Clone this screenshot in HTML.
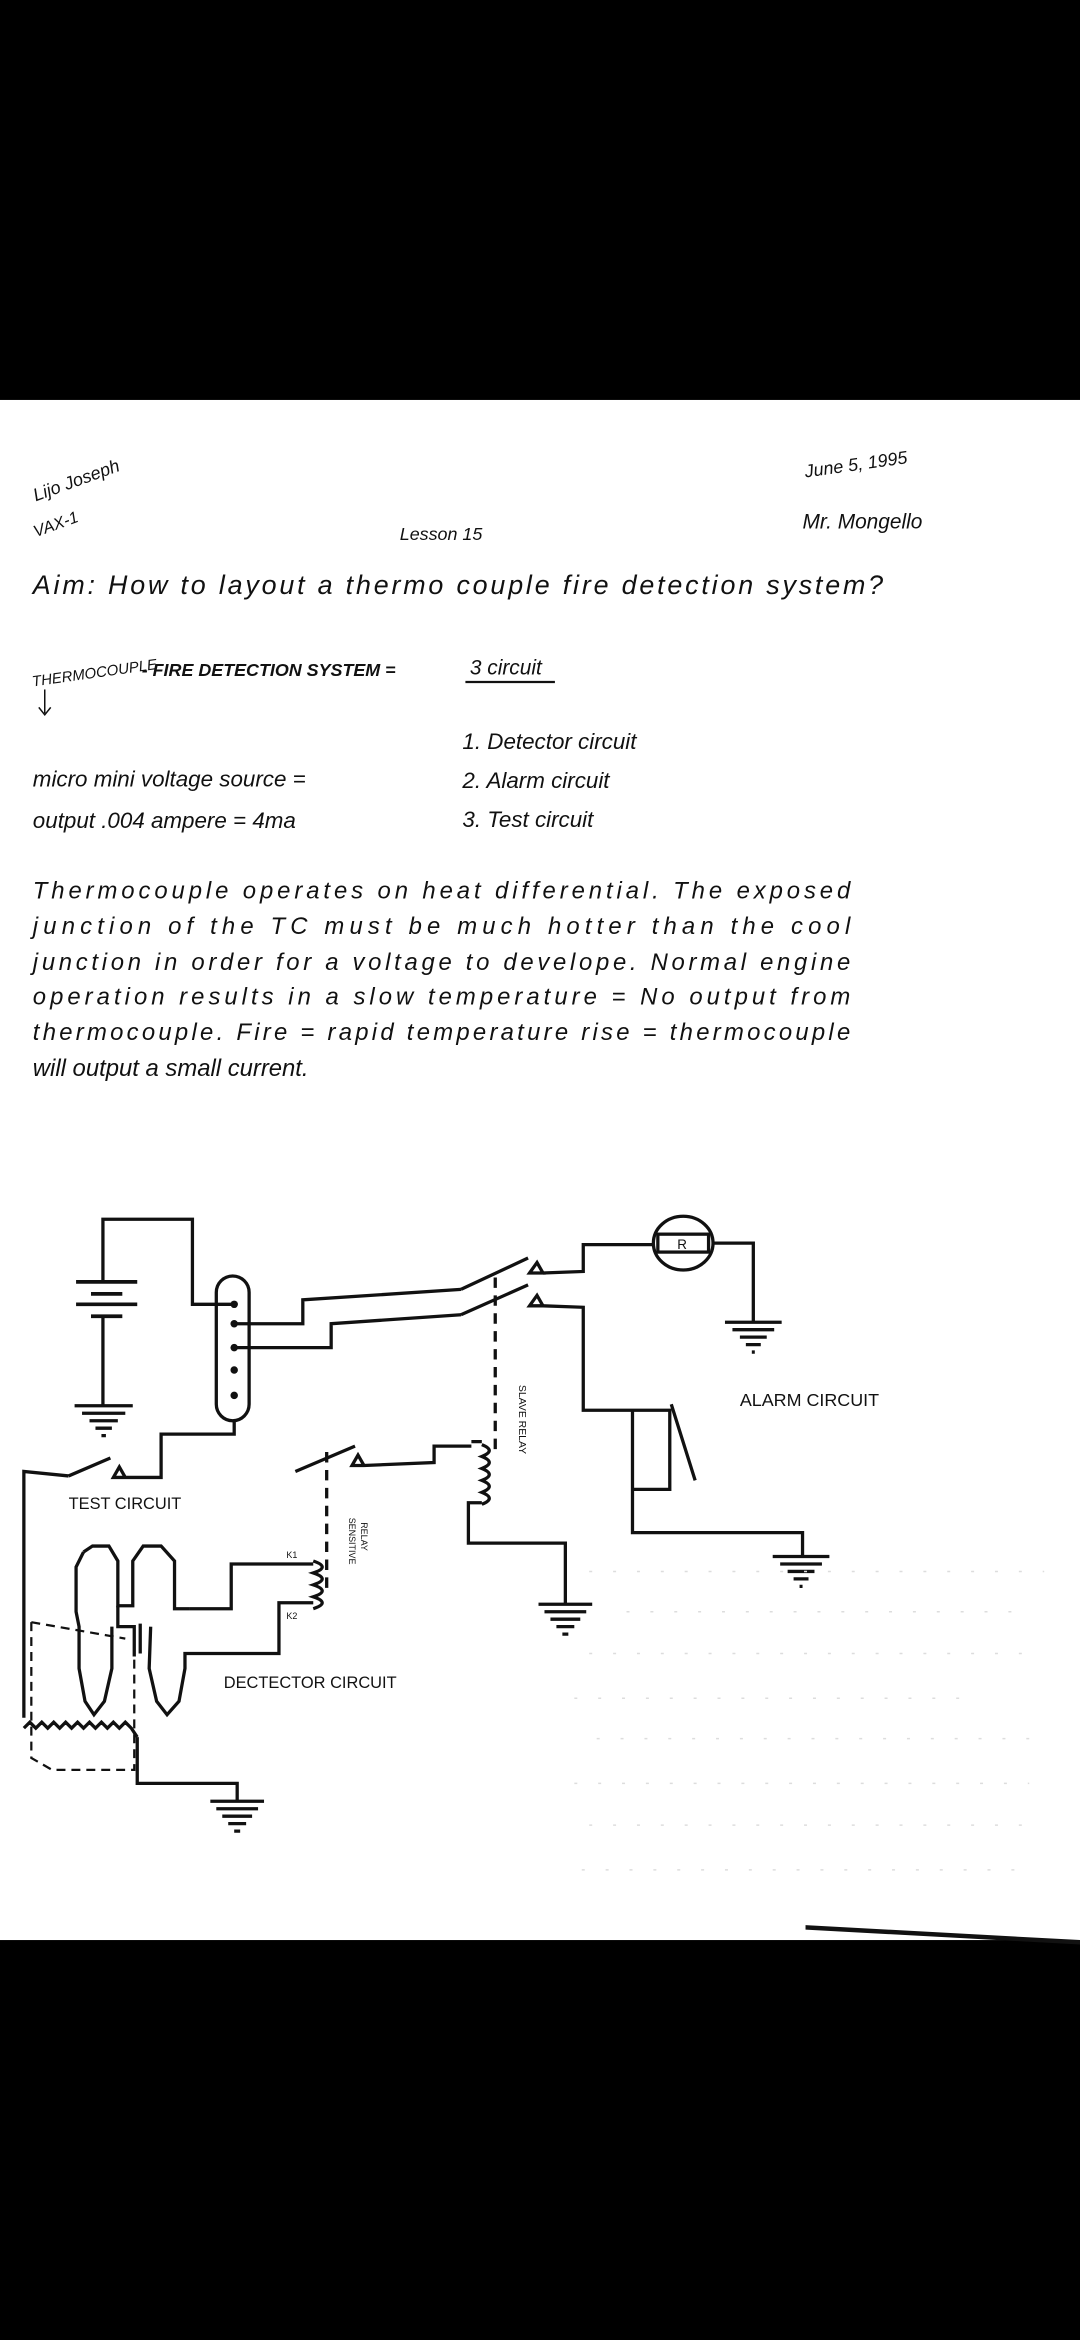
<!DOCTYPE html>
<html><head><meta charset="utf-8"><style>
html,body{margin:0;padding:0;background:#000;}
svg{display:block}
text{font-family:"Liberation Sans",sans-serif;fill:#111;}
</style></head><body>
<svg width="1080" height="2340" viewBox="0 0 724 1568" preserveAspectRatio="none" xmlns="http://www.w3.org/2000/svg">
<rect x="0" y="0" width="724" height="1568" fill="#000"/>
<rect x="0" y="268" width="724" height="1032" fill="#fff"/>
<g font-style="italic">
<text x="24" y="336" font-size="12" transform="rotate(-20 24 336)">Lijo Joseph</text>
<text x="24" y="360" font-size="11" transform="rotate(-20 24 360)">VAX-1</text>
<text x="268" y="362" font-size="12">Lesson 15</text>
<text x="540" y="320" font-size="12" transform="rotate(-8 540 320)">June 5, 1995</text>
<text x="538" y="354" font-size="14">Mr. Mongello</text>
<text x="22" y="398" font-size="18" textLength="570">Aim: How to layout a thermo couple fire detection system?</text>
<text x="22" y="460" font-size="10" transform="rotate(-8 22 460)">THERMOCOUPLE</text>
<text x="95" y="453" font-size="12" font-weight="bold">- FIRE DETECTION SYSTEM =</text>
<text x="315" y="452" font-size="14">3 circuit</text>
<line x1="312" y1="457" x2="372" y2="457" stroke="#111" stroke-width="1.5"/>
<line x1="30" y1="462" x2="30" y2="478" stroke="#111"/><path d="M26 474 L30 479 L34 474" fill="none" stroke="#111"/>
<text x="310" y="502" font-size="15">1. Detector circuit</text>
<text x="310" y="528" font-size="15">2. Alarm circuit</text>
<text x="310" y="554" font-size="15">3. Test circuit</text>
<text x="22" y="527" font-size="15">micro mini voltage source =</text>
<text x="22" y="555" font-size="15">output .004 ampere = 4ma</text>
<g font-size="16">
<text x="22" y="602" textLength="548">Thermocouple operates on heat differential. The exposed</text>
<text x="22" y="626" textLength="548">junction of the TC must be much hotter than the cool</text>
<text x="22" y="650" textLength="548">junction in order for a voltage to develope. Normal engine</text>
<text x="22" y="673" textLength="548">operation results in a slow temperature = No output from</text>
<text x="22" y="697" textLength="548">thermocouple. Fire = rapid temperature rise = thermocouple</text>
<text x="22" y="721">will output a small current.</text>
</g>
</g>
<g stroke="#111" stroke-width="2.2" fill="none">
<path d="M69 942 V882 M69 859 V817 H129 V874 H157"/>
<path d="M51 859 H92 M61 867 H82 M51 874 H92 M61 882 H82" stroke-width="2.5"/>
<path d="M50 942 H89 M55 947 H84 M60 952 H79 M64 957 H75 M68 962 H71"/>
<rect x="145" y="855" width="22" height="97" rx="11"/>
<path d="M157 887 H203 V871 L309 864 M157 903 H222 V887 L309 881"/>
<path d="M309 864 L354 843 M309 881 L354 861"/>
<path d="M355 853 L360 846 L364 853 Z M355 875 L360 868 L364 875 Z"/>
<path d="M332 856 V976" stroke-dasharray="7 5"/>
<path d="M364 853 L391 852 V834 H439 M478 833 H505 V886"/>
<ellipse cx="458" cy="833" rx="20" ry="18"/>
<rect x="441" y="827" width="34" height="12"/>
<path d="M486 886 H524 M491 891 H519 M496 896 H514 M500 901 H510 M504 906 H506"/>
<path d="M364 875 L391 876 V945 H450 M424 945 V998 H449 V945 M450 941 L466 992 M424 998 V1027 H538 V1043"/>
<path d="M518 1043 H556 M523 1048 H551 M528 1053 H546 M532 1058 H542 M536 1063 H538"/>
<path d="M157 952 V961 H108 V990 H80 M76 990 L80 983 L84 990 Z M46 989 L74 977 M46 989 L16 986 V1151"/>
<path d="M198 986 L238 969 M236 982 L240 975 L244 982 Z M244 982 L291 980 V969 H316"/>
<path d="M219 973 V1065" stroke-dasharray="7 5"/>
<path d="M316 966 H323 M323 968 q10 4 0 8 q10 4 0 8 q10 4 0 8 q10 4 0 8 q10 4 0 8"/>
<path d="M323 1007 H314 V1034 H379 V1075"/>
<path d="M361 1075 H397 M365 1080 H393 M369 1085 H389 M373 1090 H385 M377 1095 H381"/>
<path d="M56 1040 L62 1036 L73 1036 L79 1046 V1076 H89 V1046 L96 1036 L108 1036 L117 1046 V1078 H127"/>
<path d="M56 1040 L51 1050 V1080 L53 1090 V1118 L57 1140 L63 1149 L70 1140 L75 1118 V1090"/>
<path d="M101 1090 L100 1118 L105 1140 L112 1149 L120 1140 L124 1118 V1108 H187 V1074 H210"/>
<path d="M79 1076 V1090 H90 V1110 M94 1088 V1108"/>
<path d="M127 1078 H155 V1048 H210 M210 1046 q12 4 0 8 q12 4 0 8 q12 4 0 8 q12 4 0 8"/>
<path d="M21 1087 L84 1098 M21 1087 V1178 L35 1186 H90 V1100" stroke-dasharray="6 4" stroke-width="1.5"/>
<path d="M16 1158 l4 -4 l4 4 l4 -4 l4 4 l4 -4 l4 4 l4 -4 l4 4 l4 -4 l4 4 l4 -4 l4 4 l4 -4 l4 4 l4 -4 l4 4 l4 -4 l4 4 L92 1164"/>
<path d="M92 1164 V1195 H159 V1207"/>
<path d="M141 1207 H177 M145 1212 H173 M149 1217 H169 M153 1222 H165 M157 1227 H161"/>
</g>
<g fill="#111">
<circle cx="157" cy="874" r="2.5"/><circle cx="157" cy="887" r="2.5"/><circle cx="157" cy="903" r="2.5"/><circle cx="157" cy="918" r="2.5"/><circle cx="157" cy="935" r="2.5"/>
</g>
<g font-size="11">
<text x="454" y="837" font-size="9">R</text>
<text x="496" y="942" font-size="12">ALARM CIRCUIT</text>
<text x="46" y="1011">TEST CIRCUIT</text>
<text x="150" y="1131">DECTECTOR CIRCUIT</text>
<text x="192" y="1044" font-size="6">K1</text>
<text x="192" y="1085" font-size="6">K2</text>
<text x="0" y="0" font-size="7" transform="translate(348 928) rotate(90)">SLAVE RELAY</text>
<text x="0" y="0" font-size="6" transform="translate(234 1017) rotate(90)">SENSITIVE</text>
<text x="0" y="0" font-size="6" transform="translate(242 1020) rotate(90)">RELAY</text>
</g>
<g stroke="#ddd" stroke-width="1" stroke-dasharray="2 14">
<path d="M395 1053 H700 M420 1080 H680 M395 1108 H690 M385 1138 H650 M400 1165 H690 M385 1195 H690 M395 1223 H690 M390 1253 H680"/>
</g>
<path d="M540 1290 L724 1300 L724 1303 L540 1293Z" fill="#111"/>
</svg>
</body></html>
